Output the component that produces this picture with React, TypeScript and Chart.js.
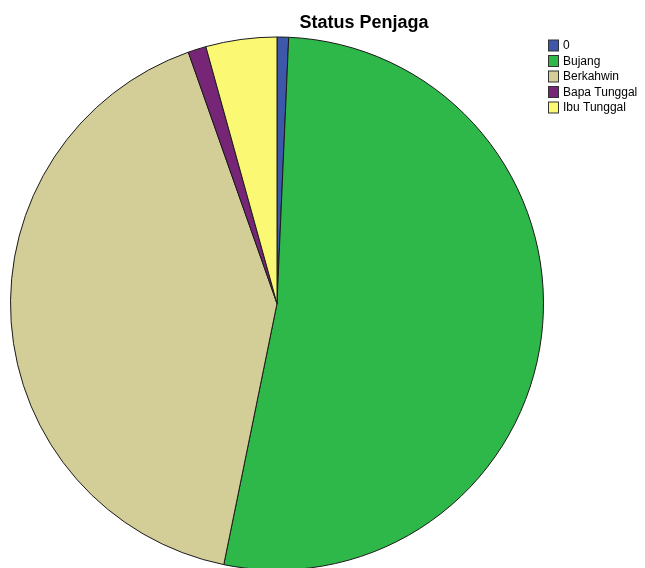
import React, { useEffect, useRef } from "react";
import { Chart, registerables } from "chart.js";

Chart.register(...registerables);

const titleText = "Status Penjaga";
const categories = ["0", "Bujang", "Berkahwin", "Bapa Tunggal", "Ibu Tunggal"];
const percentValues = [0.7, 52.5, 41.4, 1.1, 4.3];
const sliceColors = ["#3D58AB", "#2EB84A", "#D3CD98", "#772677", "#FBF873"];

const overlayPlugin = {
  id: "spssOverlay",
  afterDraw(chart: any) {
    const ctx = chart.ctx;
    ctx.save();
    // title
    ctx.fillStyle = "#000";
    ctx.font = "bold 18px 'Liberation Sans', Arial, sans-serif";
    ctx.textAlign = "center";
    ctx.textBaseline = "alphabetic";
    ctx.fillText(titleText, 364, 28);
    // legend
    ctx.font = "12px 'Liberation Sans', Arial, sans-serif";
    ctx.textAlign = "left";
    ctx.textBaseline = "middle";
    const labels = chart.data.labels as string[];
    const colors = chart.data.datasets[0].backgroundColor as string[];
    labels.forEach((lab, i) => {
      const y = 45.5 + i * 15.5;
      ctx.fillStyle = colors[i];
      ctx.fillRect(548.5, y - 5.5, 10, 11);
      ctx.strokeStyle = "#333";
      ctx.lineWidth = 1;
      ctx.strokeRect(548.5, y - 5.5, 10, 11);
      ctx.fillStyle = "#000";
      ctx.fillText(lab, 563, y + 0.5);
    });
    ctx.restore();
  },
};

export default function App() {
  const ref = useRef<HTMLCanvasElement>(null);
  useEffect(() => {
    if (!ref.current) return;
    const chart = new Chart(ref.current, {
      type: "pie",
      data: {
        labels: categories,
        datasets: [
          {
            data: percentValues,
            backgroundColor: sliceColors,
            borderColor: "#1a1a1a",
            borderWidth: 1,
          },
        ],
      },
      options: {
        responsive: false,
        animation: false,
        layout: { padding: { left: 10, top: 36, right: 101, bottom: 1 } },
        plugins: {
          legend: { display: false },
          title: { display: false },
          tooltip: { enabled: false },
        },
      },
      plugins: [overlayPlugin],
    });
    return () => chart.destroy();
  }, []);
  return (
    <div
      style={{
        position: "fixed",
        left: 0,
        top: 0,
        width: 645,
        height: 568,
        overflow: "hidden",
        background: "#fff",
      }}
    >
      <canvas ref={ref} width={645} height={572} style={{ display: "block" }} />
    </div>
  );
}
